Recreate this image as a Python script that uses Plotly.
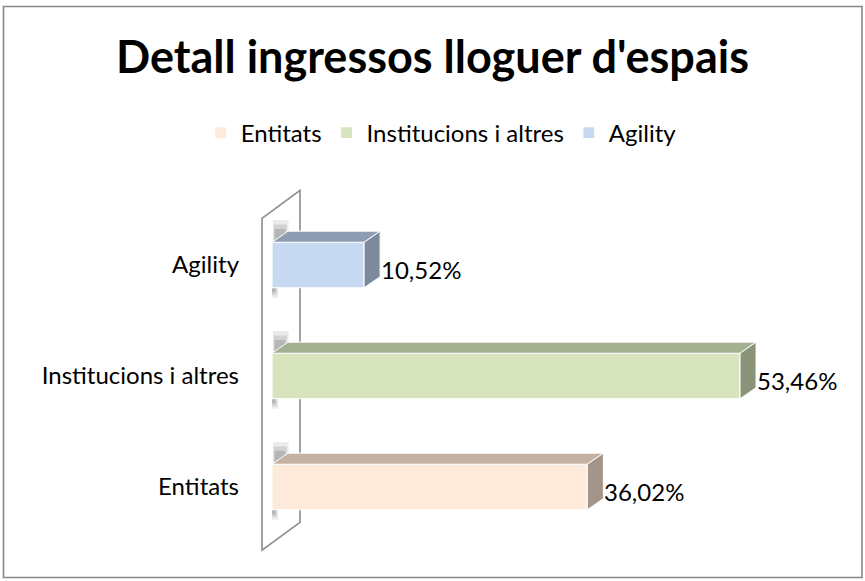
import plotly.graph_objects as go

# ---- data ----
categories = ["Entitats", "Institucions i altres", "Agility"]
values = [36.02, 53.46, 10.52]
labels = ["36,02%", "53,46%", "10,52%"]
front_colors = ["#FDEADA", "#D7E4BD", "#C6D9F1"]
top_colors = ["#C4B2A4", "#A3B091", "#8E9DB2"]
side_colors = ["#A4958A", "#8A9479", "#7D8A9C"]

FONT = "Lato"
W, H = 865, 581
ML, MR, MT, MB = 240, 15, 180, 21
XR = [-3.655, 66.02]
YR = [-0.658, 2.766]
BW = 0.41      # bar thickness (y units)
DX = 1.83      # depth offset in x units
DY = 0.10      # depth offset in y units

fig = go.Figure()

# back wall (outline parallelogram) drawn below the bars
wl, wr = -1.14, 3.2
wb, wt = -0.57, 2.42
wd = 0.252
fig.add_shape(type="path", xref="x", yref="y", layer="below",
              path=f"M{wl},{wb} L{wl},{wt} L{wr},{wt + wd} L{wr},{wb + wd} Z",
              line=dict(color="#8C8C8C", width=1.6), fillcolor="white")

for i, (cat, v) in enumerate(zip(categories, values)):
    yc = i
    y0, y1 = yc - BW / 2, yc + BW / 2
    # soft shadow on wall (above and below the bar)
    for k, a in enumerate([0.14, 0.2, 0.28]):
        fig.add_shape(type="rect", xref="x", yref="y", layer="below",
                      x0=0.1 + 0.1 * k, x1=1.9 - 0.2 * k,
                      y0=y1, y1=y1 + 0.2 - 0.04 * k,
                      line=dict(width=0), fillcolor=f"rgba(110,110,110,{a})")
        fig.add_shape(type="rect", xref="x", yref="y", layer="below",
                      x0=0.0, x1=0.7 - 0.15 * k,
                      y0=y0 - 0.09 + 0.025 * k, y1=y0,
                      line=dict(width=0), fillcolor=f"rgba(110,110,110,{a})")
    # top face
    fig.add_trace(go.Scatter(
        x=[0, v, v + DX, DX, 0], y=[y1, y1, y1 + DY, y1 + DY, y1],
        mode="lines", line=dict(color="white", width=1), fill="toself",
        fillcolor=top_colors[i], showlegend=False, hoverinfo="skip"))
    # side face
    fig.add_trace(go.Scatter(
        x=[v, v + DX, v + DX, v, v], y=[y0, y0 + DY, y1 + DY, y1, y0],
        mode="lines", line=dict(color="white", width=1), fill="toself",
        fillcolor=side_colors[i], showlegend=False, hoverinfo="skip"))

# front faces (legend entries)
for i, (cat, v) in enumerate(zip(categories, values)):
    fig.add_trace(go.Bar(
        x=[v], y=[i], base=0, width=BW, orientation="h", name=cat,
        marker=dict(color=front_colors[i], line=dict(color="white", width=1.2)),
        hoverinfo="skip"))

for i, (v, lab) in enumerate(zip(values, labels)):
    fig.add_annotation(x=v + DX, y=i - 0.04, text=lab, showarrow=False,
                       xanchor="left", yanchor="middle", xshift=-1,
                       font=dict(family=FONT, size=24, color="#000000"))

# chart border
pw = W - ML - MR
ph = H - MT - MB
def px2paper_x(p):
    return (p - ML) / pw
def px2paper_y(p):
    return (H - MB - p) / ph
fig.add_shape(type="rect", xref="paper", yref="paper",
              x0=px2paper_x(3.5), x1=px2paper_x(862), y0=px2paper_y(577.5), y1=px2paper_y(6.5),
              line=dict(color="#888888", width=1.6), layer="below")

fig.update_layout(
    width=W, height=H,
    margin=dict(l=ML, r=MR, t=MT, b=MB),
    paper_bgcolor="white", plot_bgcolor="white",
    barmode="overlay",
    title=dict(text="<b>Detall ingressos lloguer d'espais</b>", x=0.5, xref="container",
               y=1 - 57 / H, yref="container", xanchor="center", yanchor="middle",
               font=dict(family=FONT, size=45, color="#000000")),
    legend=dict(orientation="h", x=0.51, xref="container", xanchor="center",
                y=1 - 133 / H, yref="container", yanchor="middle",
                font=dict(family=FONT, size=24, color="#000000"),
                itemwidth=30,
                traceorder="normal", bgcolor="rgba(0,0,0,0)"),
    xaxis=dict(range=XR, visible=False, fixedrange=True),
    yaxis=dict(range=YR, tickvals=[0, 1, 2], ticktext=categories, showgrid=False,
               zeroline=False, showline=False, ticks="", fixedrange=True,
               tickfont=dict(family=FONT, size=24, color="#000000")),
    showlegend=True,
)

fig.write_html("out.html", config={"displayModeBar": False},
               post_script="document.body.style.margin='0';document.body.style.overflow='hidden';")
